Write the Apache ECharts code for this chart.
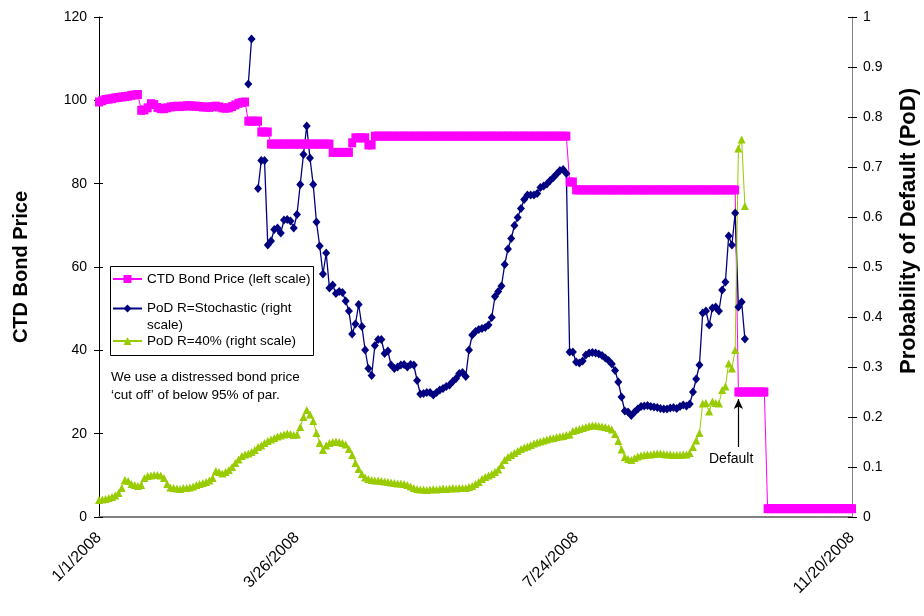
<!DOCTYPE html>
<html>
<head>
<meta charset="utf-8">
<script src="https://cdn.jsdelivr.net/npm/echarts@6/dist/echarts.min.js"></script>
<style>
  html, body { margin: 0; padding: 0; background: #fff; }
  #chart { width: 924px; height: 616px; }
</style>
</head>
<body>
<div id="chart"></div>
<script>
// Trading days (weekdays) between the first and last observation
const firstDay = new Date(2008, 0, 1);
const lastDay = new Date(2008, 10, 20);
const tradingDays = [];
for (let d = new Date(firstDay); d <= lastDay; d.setDate(d.getDate() + 1)) {
  const w = d.getDay();
  if (w !== 0 && w !== 6) {
    tradingDays.push((d.getMonth() + 1) + '/' + d.getDate() + '/' + d.getFullYear());
  }
}

// Dates shown under the x axis
const tickLabels = ['1/1/2008', '3/26/2008', '7/24/2008', '11/20/2008'];

// CTD bond price, left scale (one value per trading day)
const bondPrice = [
  99.6, 99.9, 100.2, 100.3, 100.4, 100.6, 100.7, 100.8, 100.9, 101.0,
  101.2, 101.3, 101.4,
  97.6, 97.7, 98.2, 99.2, 99.0, 98.3, 98.0, 98.0, 98.2, 98.4,
  98.5, 98.6, 98.5, 98.6, 98.7, 98.7, 98.6, 98.6, 98.5, 98.4,
  98.4, 98.3, 98.5, 98.6, 98.4, 98.2, 98.1, 98.2, 98.5, 98.9,
  99.3, 99.5, 99.6,
  95.0, 95.0, 95.0, 95.0,
  92.4, 92.4, 92.4,
  89.5, 89.5, 89.5, 89.5, 89.5, 89.5, 89.5, 89.5, 89.5, 89.5,
  89.5, 89.5, 89.5, 89.5, 89.5, 89.5, 89.5, 89.5, 89.5,
  87.5, 87.5, 87.5, 87.5, 87.5, 87.5,
  89.8, 91.0, 91.0, 91.0, 91.0, 89.3, 89.3,
  91.4, 91.4, 91.4, 91.4, 91.4, 91.4, 91.4, 91.4, 91.4, 91.4,
  91.4, 91.4, 91.4, 91.4, 91.4, 91.4, 91.4, 91.4, 91.4, 91.4,
  91.4, 91.4, 91.4, 91.4, 91.4, 91.4, 91.4, 91.4, 91.4, 91.4,
  91.4, 91.4, 91.4, 91.4, 91.4, 91.4, 91.4, 91.4, 91.4, 91.4,
  91.4, 91.4, 91.4, 91.4, 91.4, 91.4, 91.4, 91.4, 91.4, 91.4,
  91.4, 91.4, 91.4, 91.4, 91.4, 91.4, 91.4, 91.4, 91.4, 91.4,
  80.4, 80.4,
  78.5, 78.5, 78.5, 78.5, 78.5, 78.5, 78.5, 78.5, 78.5, 78.5,
  78.5, 78.5, 78.5, 78.5, 78.5, 78.5, 78.5, 78.5, 78.5, 78.5,
  78.5, 78.5, 78.5, 78.5, 78.5, 78.5, 78.5, 78.5, 78.5, 78.5,
  78.5, 78.5, 78.5, 78.5, 78.5, 78.5, 78.5, 78.5, 78.5, 78.5,
  78.5, 78.5, 78.5, 78.5, 78.5, 78.5, 78.5, 78.5, 78.5, 78.5,
  30.0, 30.0, 30.0, 30.0, 30.0, 30.0, 30.0, 30.0, 30.0,
  2.0, 2.0, 2.0, 2.0, 2.0, 2.0, 2.0, 2.0, 2.0, 2.0,
  2.0, 2.0, 2.0, 2.0, 2.0, 2.0, 2.0, 2.0, 2.0, 2.0,
  2.0, 2.0, 2.0, 2.0, 2.0, 2.0, 2.0
];

// Probability of default with stochastic recovery, right scale
const podStochastic = [
  null, null, null, null, null, null, null, null, null, null,
  null, null, null, null, null, null, null, null, null, null,
  null, null, null, null, null, null, null, null, null, null,
  null, null, null, null, null, null, null, null, null, null,
  null, null, null, null, null, null,
  0.866, 0.956, null,
  0.657, 0.713, 0.713, 0.544, 0.552, 0.575, 0.578, 0.568, 0.594, 0.595,
  0.592, 0.578, 0.605, 0.665, 0.725, 0.782, 0.718, 0.665, 0.590, 0.542,
  0.486, 0.528, 0.458, 0.464, 0.447, 0.451, 0.449, 0.432, 0.412, 0.366,
  0.386, 0.425, 0.381, 0.334, 0.297, 0.283, 0.343, 0.355, 0.355, 0.327,
  0.332, 0.304, 0.297, 0.300, 0.304, 0.305, 0.300, 0.305, 0.304, 0.273,
  0.246, 0.247, 0.249, 0.249, 0.244, 0.249, 0.254, 0.257, 0.261, 0.264,
  0.271, 0.277, 0.287, 0.289, 0.281, 0.334, 0.364, 0.371, 0.375, 0.377,
  0.379, 0.384, 0.399, 0.441, 0.451, 0.462, 0.505, 0.536, 0.557, 0.583,
  0.599, 0.617, 0.635, 0.644, 0.644, 0.644, 0.647, 0.659, 0.662, 0.666,
  0.673, 0.679, 0.686, 0.693, 0.695, 0.687,
  0.330, 0.330, 0.310, 0.308, 0.312, 0.324, 0.328, 0.329, 0.328, 0.326,
  0.323, 0.318, 0.313, 0.306, 0.293, 0.270, 0.240, 0.212, 0.210, 0.203,
  0.210, 0.216, 0.221, 0.222, 0.223, 0.221, 0.220, 0.219, 0.217, 0.216,
  0.216, 0.218, 0.219, 0.217, 0.221, 0.224, 0.222, 0.226, 0.250, 0.276,
  0.304, 0.408, 0.412, 0.384, 0.418, 0.420, 0.412, 0.454, 0.470, 0.562,
  0.544, 0.608, 0.420, 0.430, 0.356,
  null, null, null, null, null, null, null, null, null, null,
  null, null, null, null, null, null, null, null, null, null,
  null, null, null, null, null, null, null, null, null, null,
  null, null, null
];

// Probability of default with 40% recovery, right scale
const pod40 = [
  0.034, 0.035, 0.036, 0.038, 0.040, 0.043, 0.048, 0.058, 0.074, 0.072,
  0.066, 0.064, 0.062, 0.064, 0.078, 0.082, 0.083, 0.084, 0.084, 0.083,
  0.078, 0.066, 0.059, 0.058, 0.057, 0.056, 0.058, 0.058, 0.059, 0.061,
  0.064, 0.066, 0.068, 0.070, 0.073, 0.078, 0.092, 0.090, 0.087, 0.090,
  0.094, 0.100, 0.108, 0.115, 0.122, 0.125, 0.127, 0.130, 0.134, 0.140,
  0.143, 0.148, 0.152, 0.155, 0.158, 0.161, 0.163, 0.165, 0.167, 0.166,
  0.164, 0.165, 0.180, 0.200, 0.214, 0.205, 0.192, 0.168, 0.148, 0.134,
  0.143, 0.148, 0.150, 0.151, 0.150, 0.148, 0.145, 0.136, 0.124, 0.108,
  0.096, 0.086, 0.079, 0.076, 0.074, 0.073, 0.073, 0.072, 0.071, 0.070,
  0.069, 0.068, 0.067, 0.067, 0.066, 0.064, 0.061, 0.058, 0.056, 0.055,
  0.055, 0.054, 0.055, 0.056, 0.055, 0.056, 0.057, 0.056, 0.057, 0.058,
  0.057, 0.058, 0.058, 0.058, 0.060, 0.062, 0.066, 0.070, 0.076, 0.080,
  0.083, 0.086, 0.090, 0.095, 0.104, 0.114, 0.120, 0.124, 0.128, 0.132,
  0.136, 0.139, 0.141, 0.144, 0.147, 0.149, 0.151, 0.153, 0.155, 0.157,
  0.158, 0.160, 0.161, 0.162, 0.164, 0.165, 0.172, 0.174, 0.176, 0.178,
  0.180, 0.182, 0.183, 0.183, 0.182, 0.181, 0.180, 0.178, 0.175, 0.166,
  0.152, 0.135, 0.120, 0.116, 0.114, 0.118, 0.121, 0.123, 0.124, 0.125,
  0.125, 0.126, 0.127, 0.127, 0.126, 0.125, 0.125, 0.124, 0.124, 0.124,
  0.125, 0.125, 0.128, 0.140, 0.153, 0.168, 0.227, 0.228, 0.211, 0.231,
  0.228, 0.227, 0.254, 0.261, 0.307, 0.297, 0.334, 0.737, 0.755, 0.622,
  null, null, null, null, null, null, null, null, null, null,
  null, null, null, null, null, null, null, null, null, null,
  null, null, null, null, null, null, null, null, null, null,
  null, null, null
];

// Default event: index of the trading day and the price span of the arrow
const defaultDayIndex = 197;
const defaultArrow = [16.8, 28.3];

const FONT = '"Liberation Sans", Arial, sans-serif';
const seriesNames = [
  'CTD Bond Price (left scale)',
  'PoD R=Stochastic (right scale)',
  'PoD R=40% (right scale)'
];

const chart = echarts.init(document.getElementById('chart'), null, { renderer: 'canvas' });

const legendBase = {
  orient: 'vertical',
  padding: 0,
  itemWidth: 29,
  itemHeight: 10,
  selectedMode: false,
  textStyle: { fontFamily: FONT, fontSize: 13.5, color: '#000' }
};

chart.setOption({
  animation: false,
  backgroundColor: '#fff',
  grid: { left: 99, right: 72, top: 17, bottom: 99, containLabel: false, outerBoundsMode: 'none' },
  legend: [
    Object.assign({}, legendBase, { left: 112, top: 272, data: [seriesNames[0]] }),
    Object.assign({}, legendBase, {
      left: 112, top: 283,
      data: [seriesNames[1]],
      textStyle: { fontFamily: FONT, fontSize: 13.5, color: '#000', lineHeight: 17 },
      // wrapped over two lines; the leading break keeps the icon beside the first line
      formatter: function (n) { return '\n' + n.replace(' scale)', '\nscale)'); }
    }),
    Object.assign({}, legendBase, { left: 112, top: 334, data: [seriesNames[2]] })
  ],
  xAxis: {
    type: 'category',
    data: tradingDays,
    boundaryGap: false,
    axisLine: { lineStyle: { color: '#808080', width: 2 } },
    axisTick: { show: false },
    splitLine: { show: false },
    axisLabel: {
      interval: function (idx, val) { return tickLabels.indexOf(val) >= 0; },
      rotate: 45,
      margin: 18,
      fontFamily: FONT,
      fontSize: 16,
      color: '#000'
    }
  },
  yAxis: [
    {
      type: 'value', position: 'left', min: 0, max: 120, interval: 20,
      name: 'CTD Bond Price', nameLocation: 'middle', nameGap: 68, nameRotate: 90,
      nameTextStyle: { fontFamily: FONT, fontSize: 20, fontWeight: 'bold', color: '#000' },
      axisLine: { show: true, lineStyle: { color: '#000', width: 1 } },
      axisTick: { show: true, length: 5, lineStyle: { color: '#000' } },
      splitLine: { show: false },
      axisLabel: { margin: 12, fontFamily: FONT, fontSize: 14, color: '#000' }
    },
    {
      type: 'value', position: 'right', min: 0, max: 1, interval: 0.1,
      name: 'Probability of Default (PoD)', nameLocation: 'middle', nameGap: 46, nameRotate: 90,
      // left padding (the start of the rotated text) lifts the title above the axis centre
      nameTextStyle: { fontFamily: FONT, fontSize: 22, fontWeight: 'bold', color: '#000', padding: [0, 0, 0, 72] },
      axisLine: { show: true, lineStyle: { color: '#808080', width: 1 } },
      axisTick: { show: true, length: 5, lineStyle: { color: '#000' } },
      splitLine: { show: false },
      axisLabel: { margin: 11, fontFamily: FONT, fontSize: 14, color: '#000' }
    },
    {
      type: 'value', position: 'left', min: 0, max: 120, interval: 20,
      axisLine: { show: false },
      axisTick: { show: true, inside: true, length: 4, lineStyle: { color: '#000' } },
      axisLabel: { show: false }, splitLine: { show: false }
    },
    {
      type: 'value', position: 'right', min: 0, max: 1, interval: 0.1,
      axisLine: { show: false },
      axisTick: { show: true, inside: true, length: 4, lineStyle: { color: '#000' } },
      axisLabel: { show: false }, splitLine: { show: false }
    }
  ],
  series: [
    {
      name: seriesNames[0],
      type: 'line',
      yAxisIndex: 0,
      data: bondPrice,
      color: '#FF00FF',
      symbol: 'rect',
      symbolSize: [8, 9],
      showAllSymbol: true,
      lineStyle: { width: 1 },
      markLine: {
        silent: true,
        symbol: ['none', 'arrow'],
        symbolSize: [7, 10],
        label: { show: false },
        lineStyle: { color: '#000', width: 1.2, type: 'solid' },
        data: [[
          { coord: [tradingDays[defaultDayIndex], defaultArrow[0]] },
          { coord: [tradingDays[defaultDayIndex], defaultArrow[1]] }
        ]]
      }
    },
    {
      name: seriesNames[1],
      type: 'line',
      yAxisIndex: 1,
      data: podStochastic,
      color: '#000080',
      symbol: 'diamond',
      symbolSize: [8, 9],
      showAllSymbol: true,
      connectNulls: false,
      lineStyle: { width: 1.3 }
    },
    {
      name: seriesNames[2],
      type: 'line',
      yAxisIndex: 1,
      data: pod40,
      color: '#99CC00',
      symbol: 'triangle',
      symbolSize: 8,
      showAllSymbol: true,
      lineStyle: { width: 1 }
    }
  ],
  graphic: [
    {
      type: 'rect', left: 110, top: 266, silent: true, z: -1,
      shape: { width: 203, height: 89 },
      style: { fill: '#fff', stroke: '#000', lineWidth: 1 }
    },
    {
      type: 'text', left: 111, top: 368, silent: true,
      style: {
        text: 'We use a distressed bond price\n\u2018cut off\u2019 of below 95% of par.',
        font: '13.5px ' + FONT, fill: '#000', lineHeight: 18
      }
    },
    {
      type: 'text', left: 709, top: 452, silent: true,
      style: { text: 'Default', font: '14px ' + FONT, fill: '#000' }
    }
  ]
});
</script>
</body>
</html>
